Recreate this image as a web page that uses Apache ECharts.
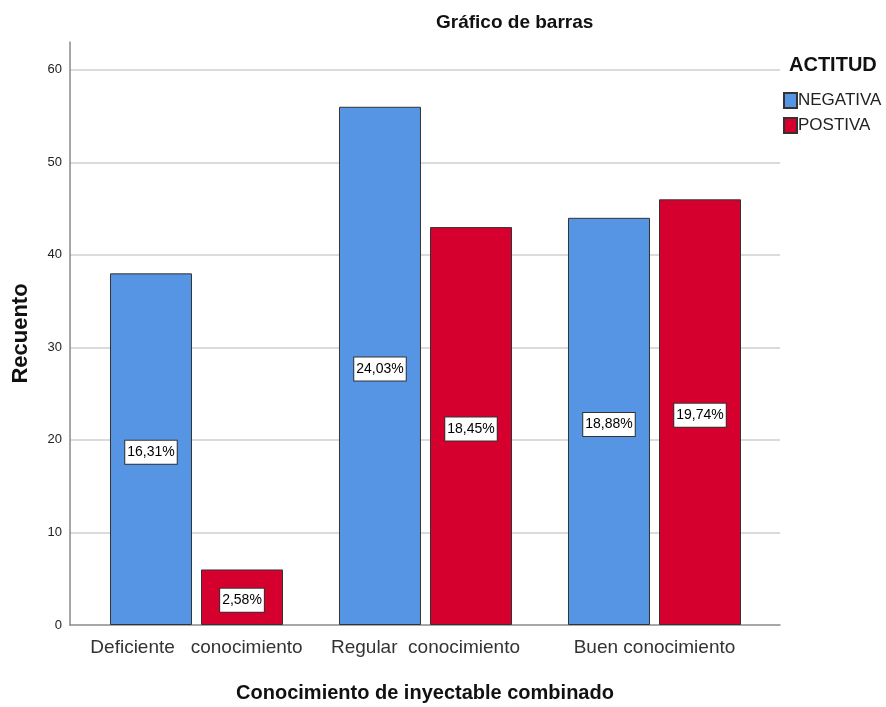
<!DOCTYPE html>
<html>
<head>
<meta charset="utf-8">
<script src="https://cdn.jsdelivr.net/npm/echarts@6/dist/echarts.min.js"></script>
<style>
  html, body { margin: 0; padding: 0; background: #ffffff; }
  #chart { width: 886px; height: 707px; }
</style>
</head>
<body>
<div id="chart"></div>
<script>
var categories = ["Deficiente   conocimiento", "Regular  conocimiento", "Buen conocimiento"];
var negativa = [38, 56, 44];
var postiva = [6, 43, 46];
var negativaPct = ["16,31%", "24,03%", "18,88%"];
var postivaPct = ["2,58%", "18,45%", "19,74%"];
var yTicks = [0, 10, 20, 30, 40, 50, 60];

var font = "Liberation Sans, Arial, sans-serif";

function pctLabel(list) {
  return {
    show: true,
    position: "inside",
    offset: [0, 3],
    formatter: function (p) { return list[p.dataIndex]; },
    color: "#000",
    fontFamily: font,
    fontSize: 14,
    backgroundColor: "#ffffff",
    borderColor: "#333",
    borderWidth: 1,
    padding: [5, 2, 4, 2]
  };
}

var chart = echarts.init(document.getElementById("chart"));

var option = {
  animation: false,
  textStyle: { fontFamily: font },
  title: [
    {
      text: "Gráfico de barras",
      left: 436,
      top: 13,
      padding: 0,
      textStyle: { fontFamily: font, fontSize: 19, fontWeight: "bold", color: "#111" }
    },
    {
      text: "ACTITUD",
      left: 789,
      top: 55,
      padding: 0,
      textStyle: { fontFamily: font, fontSize: 20, fontWeight: "bold", color: "#111" }
    }
  ],
  legend: {
    orient: "vertical",
    left: 778,
    top: 87,
    icon: "rect",
    itemWidth: 13,
    itemHeight: 15,
    itemGap: 8,
    textStyle: { fontFamily: font, fontSize: 17, color: "#222", padding: [0, 0, 0, -4] },
    data: ["NEGATIVA", "POSTIVA"]
  },
  grid: [
    { left: 70, right: 106, top: 42, bottom: 82, outerBoundsMode: "none" },
    { left: 82, right: 117, top: 42, bottom: 82, outerBoundsMode: "none" }
  ],
  xAxis: [
    {
      gridIndex: 0,
      type: "category",
      data: categories,
      axisLine: { lineStyle: { color: "#8a8a8a", width: 1.5 } },
      axisTick: { show: false },
      axisLabel: { show: false },
      name: "Conocimiento de inyectable combinado",
      nameLocation: "middle",
      nameGap: 58,
      nameTextStyle: { fontFamily: font, fontSize: 20, fontWeight: "bold", color: "#111" }
    },
    {
      gridIndex: 1,
      type: "category",
      data: categories,
      axisLine: { show: false },
      axisTick: { show: false },
      axisLabel: { interval: 0, hideOverlap: false, fontFamily: font, fontSize: 19, color: "#333", margin: 13 }
    }
  ],
  yAxis: [
    {
      gridIndex: 0,
      type: "value",
      min: yTicks[0],
      max: 63,
      interval: yTicks[1] - yTicks[0],
      axisLine: { show: true, lineStyle: { color: "#8a8a8a", width: 1.5 } },
      axisTick: { show: false },
      axisLabel: {
        fontFamily: font, fontSize: 13, color: "#222", margin: 8,
        showMaxLabel: false,
        padding: [3, 0, 0, 0],
        formatter: function (v) { return yTicks.indexOf(v) >= 0 ? String(v) : ""; }
      },
      splitLine: { show: true, showMinLine: false, showMaxLine: false, lineStyle: { color: "#cfcfcf", width: 1.5 } },
      name: "Recuento",
      nameLocation: "middle",
      nameGap: 38,
      nameTextStyle: { fontFamily: font, fontSize: 22, fontWeight: "bold", color: "#111" }
    },
    {
      gridIndex: 1,
      type: "value",
      min: yTicks[0],
      max: 63,
      show: false,
      splitLine: { show: false }
    }
  ],
  series: [
    {
      name: "NEGATIVA",
      type: "bar",
      xAxisIndex: 1,
      yAxisIndex: 1,
      barWidth: 82,
      barGap: "11%",
      data: negativa,
      itemStyle: { color: "#5595E3", borderColor: "#333", borderWidth: 1 },
      label: pctLabel(negativaPct)
    },
    {
      name: "POSTIVA",
      type: "bar",
      xAxisIndex: 1,
      yAxisIndex: 1,
      barWidth: 82,
      barGap: "11%",
      data: postiva,
      itemStyle: { color: "#D6002F", borderColor: "#333", borderWidth: 1 },
      label: pctLabel(postivaPct)
    }
  ]
};

chart.setOption(option);
</script>
</body>
</html>
